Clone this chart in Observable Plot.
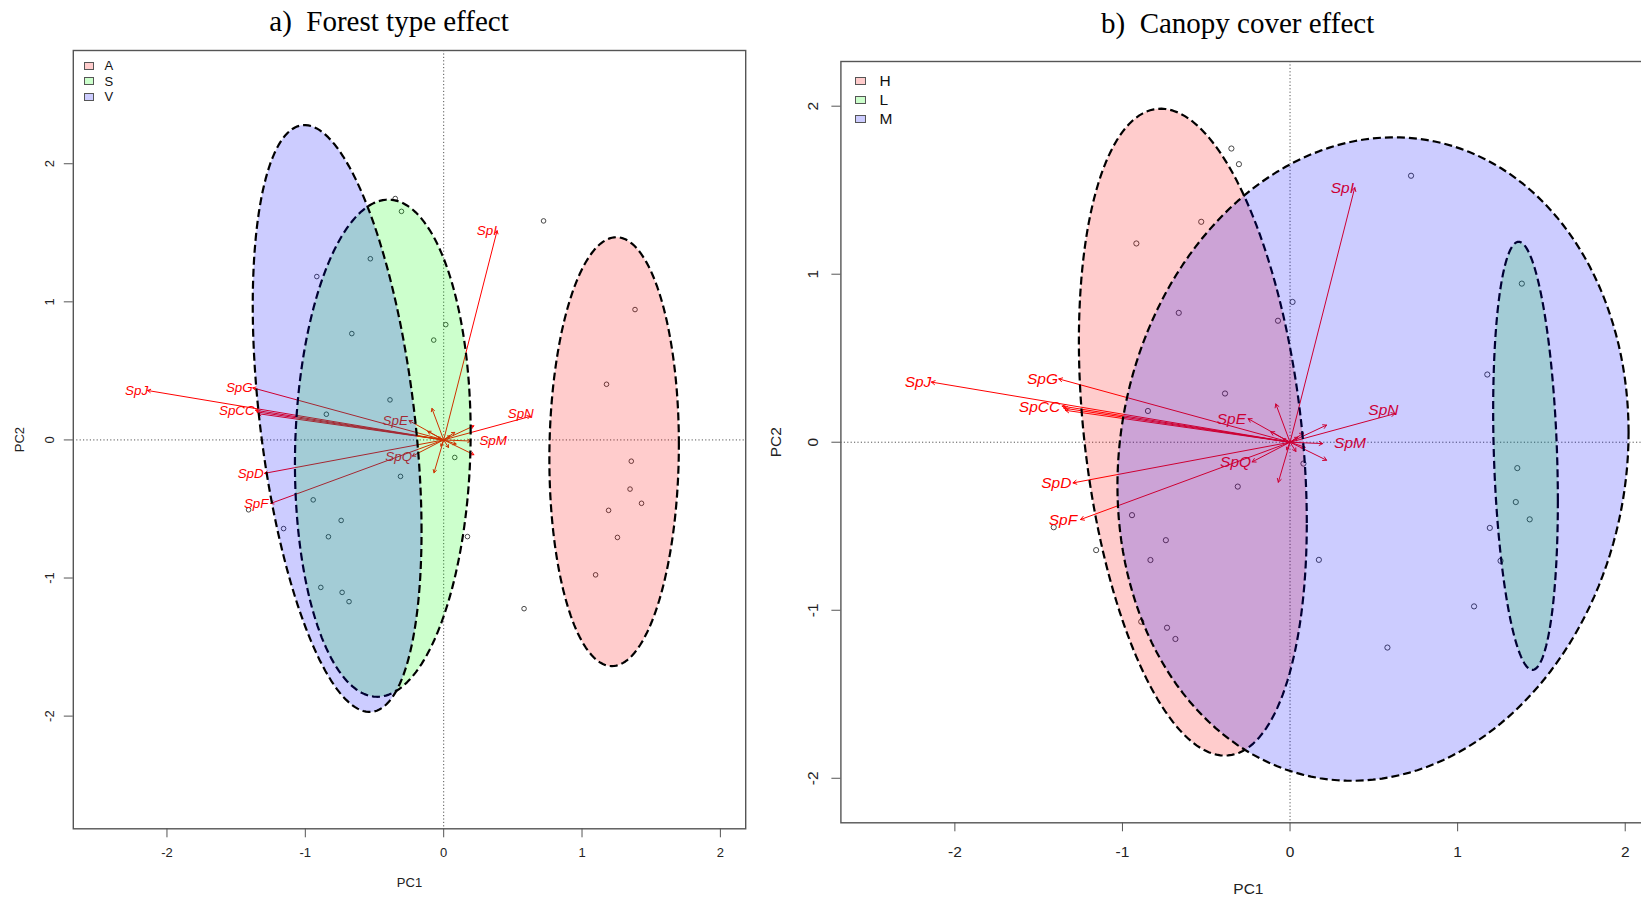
<!DOCTYPE html>
<html>
<head>
<meta charset="utf-8">
<script src="https://cdn.jsdelivr.net/npm/d3@7"></script>
<script src="https://cdn.jsdelivr.net/npm/@observablehq/plot@0.6"></script>
<style>
html, body { margin: 0; padding: 0; background: #fff; overflow: hidden; width: 1641px; height: 898px; }
#wrap { position: relative; width: 1641px; height: 898px; overflow: hidden; }
.title { position: absolute; font-family: "Liberation Serif", "Times New Roman", serif; font-size: 29px; line-height: 1; white-space: pre; transform: translateX(-50%); color: #000; }
.lg { position: absolute; font-family: "Liberation Sans", Arial, sans-serif; color: #111; white-space: pre; }
.sw { position: absolute; box-sizing: border-box; border: 1px solid #555; }
</style>
</head>
<body>
<div id="wrap"></div>
<script>
// ---------- data ----------
const xTicks = [-2, -1, 0, 1, 2];
const yTicks = [-2, -1, 0, 1, 2];

// site scores (PC1, PC2)
const siteX = [-0.35, -0.305, -0.53, -0.917, -0.664, -0.072, 0.015, 0.722, 1.177, -0.388,
               -0.848, 0.08, -0.312, -0.943, -1.41, -1.157, -0.741, -0.833, 0.172, -0.888,
               -0.734, -0.684, 0.581, 1.098, 1.192, 1.256, 1.356, 1.347, 1.43, 1.383];
const siteY = [1.748, 1.655, 1.312, 1.183, 0.77, 0.723, 0.835, 1.586, 0.403, 0.29,
               0.186, -0.127, -0.264, -0.434, -0.506, -0.642, -0.583, -0.701, -0.70, -1.068,
               -1.104, -1.171, -1.222, -0.977, -0.51, -0.706, -0.154, -0.356, -0.459, 0.944];

// species loading arrows (tips)
const arrowX = [-2.14, -1.38, -1.36, -1.35, -1.34, -1.295, -1.25, -0.25, -0.226, 0.386, 0.625, 0.195,
                -0.085, 0.218, 0.218, -0.07, -0.115, 0.08, 0.09, -0.02, 0.035, 0.045, -0.04];
const arrowY = [0.358, 0.377, 0.215, 0.203, 0.19, -0.242, -0.46, 0.14, -0.117, 1.515, 0.17, -0.008,
                0.228, 0.102, -0.107, -0.238, 0.062, 0.055, -0.03, -0.045, -0.055, 0.03, 0.02];

// species labels
const labelText = ["SpJ", "SpG", "SpCC", "SpE", "SpQ", "SpD", "SpF", "SpI", "SpN", "SpM"];
const labelX = [-2.22, -1.477, -1.495, -0.35, -0.325, -1.395, -1.355, 0.312, 0.557, 0.358];
const labelY = [0.36, 0.378, 0.21, 0.141, -0.12, -0.242, -0.462, 1.515, 0.189, -0.007];

// group ellipses: centre, horizontal half-width, vertical half-height, x of topmost point
const forestGroups = ["A", "S", "V"];
const forestCx = [1.232, -0.44, -0.77];
const forestCy = [-0.085, -0.06, 0.155];
const forestHalfW = [0.468, 0.635, 0.61];
const forestHalfH = [1.553, 1.80, 2.125];
const forestTopX = [1.248, -0.40, -1.005];

const canopyGroups = ["H", "L", "M"];
const canopyCx = [-0.58, 1.405, 0.495];
const canopyCy = [0.06, -0.081, -0.10];
const canopyHalfW = [0.68, 0.193, 1.525];
const canopyHalfH = [1.925, 1.274, 1.915];
const canopyTopX = [-0.771, 1.364, 0.621];

const groupColors = ["#ff0000", "#00ff00", "#0000ff"];

// ---------- helpers ----------
const SANS = "'Liberation Sans', Arial, Helvetica, sans-serif";

function ellipse(cx, cy, W, R, xTop) {
  const S = (xTop - cx) * R / W;
  const H = Math.sqrt(Math.max(R * R - S * S, 0));
  return d3.range(0, 360, 2).map(a => {
    const t = a * Math.PI / 180;
    return {x: cx + W * Math.cos(t), y: cy + H * Math.sin(t) + S * Math.cos(t)};
  });
}

function panel(cfg) {
  const sites = siteX.map((x, i) => ({x, y: siteY[i]}));
  const arrows = arrowX.map((x, i) => ({x, y: arrowY[i]}));
  const labels = labelText.map((t, i) => ({t, x: labelX[i], y: labelY[i]}));
  const marks = [
    Plot.ruleY([0], {stroke: "#555", strokeWidth: 1, strokeDasharray: "1.2,2.2"}),
    Plot.ruleX([0], {stroke: "#555", strokeWidth: 1, strokeDasharray: "1.2,2.2"}),
    Plot.dot(sites, {x: "x", y: "y", r: cfg.r, stroke: "#333", strokeWidth: 0.9, fill: "none"}),
    Plot.arrow(arrows, {x1: () => 0, y1: () => 0, x2: "x", y2: "y", stroke: "#ff0000", strokeWidth: 1, headLength: cfg.head, headAngle: 60}),
    Plot.text(labels, {x: "x", y: "y", text: "t", fill: "#ff0000", fontStyle: "italic", fontSize: cfg.lfs, fontFamily: SANS})
  ];
  cfg.groups.forEach((g, i) => {
    const pts = ellipse(cfg.cx[i], cfg.cy[i], cfg.hw[i], cfg.hh[i], cfg.tx[i]);
    marks.push(Plot.line(pts, {x: "x", y: "y", fill: groupColors[i], fillOpacity: 0.2, stroke: "none", curve: "linear-closed"}));
    marks.push(Plot.line(pts, {x: "x", y: "y", stroke: "#000", strokeWidth: 2.2, strokeDasharray: "8,4", strokeLinecap: "butt", curve: "linear-closed"}));
  });
  marks.push(
    Plot.frame({stroke: "#555", strokeWidth: 1.4}),
    Plot.axisX({ticks: xTicks, tickSize: 9, tickPadding: cfg.xPad, tickFormat: d => String(d), fontSize: cfg.fs, label: null, stroke: "#555", fill: "#222"}),
    Plot.axisY({ticks: yTicks, tickSize: 9, tickFormat: () => "", label: null, stroke: "#555"}),
    Plot.text(yTicks, {y: d => d, frameAnchor: "left", dx: cfg.yLabDx, rotate: -90, text: d => String(d), textAnchor: "middle", lineAnchor: "middle", fontSize: cfg.fs, fill: "#222"}),
    Plot.text(["PC1"], {frameAnchor: "bottom", dy: cfg.pc1Dy, text: d => d, textAnchor: "middle", lineAnchor: "middle", fontSize: cfg.fs, fill: "#222"}),
    Plot.text(["PC2"], {frameAnchor: "left", dx: cfg.pc2Dx, rotate: -90, text: d => d, textAnchor: "middle", lineAnchor: "middle", fontSize: cfg.fs, fill: "#222"})
  );
  const svg = Plot.plot({
    width: cfg.width, height: 898,
    marginLeft: cfg.ml, marginRight: cfg.mr, marginTop: cfg.mt, marginBottom: cfg.mb,
    x: {domain: cfg.xd},
    y: {domain: cfg.yd},
    style: {fontFamily: SANS, fontSize: cfg.fs + "px", background: "transparent", overflow: "visible"},
    marks
  });
  svg.style.position = "absolute";
  svg.style.left = cfg.left + "px";
  svg.style.top = "0px";
  return svg;
}

function legend(wrap, groups, cfg) {
  groups.forEach((g, i) => {
    const cy = cfg.y0 + i * cfg.dy;
    const sw = document.createElement("div");
    sw.className = "sw";
    sw.style.left = cfg.sx + "px";
    sw.style.top = (cy - cfg.sh / 2) + "px";
    sw.style.width = cfg.swd + "px";
    sw.style.height = cfg.sh + "px";
    sw.style.background = d3.color(groupColors[i]).copy({opacity: 0.2}).toString();
    wrap.appendChild(sw);
    const t = document.createElement("div");
    t.className = "lg";
    t.textContent = g;
    t.style.left = cfg.tx + "px";
    t.style.fontSize = cfg.fs + "px";
    t.style.lineHeight = cfg.fs + "px";
    t.style.top = (cy - cfg.fs / 2) + "px";
    wrap.appendChild(t);
  });
}

function title(wrap, text, cx, top) {
  const d = document.createElement("div");
  d.className = "title";
  d.textContent = text;
  d.style.left = cx + "px";
  d.style.top = top + "px";
  wrap.appendChild(d);
}

const wrap = document.getElementById("wrap");

wrap.appendChild(panel({
  left: 0, width: 790, ml: 72.8, mr: 790 - 745.2, mt: 50, mb: 898 - 828.3,
  xd: [-2.677, 2.183], yd: [-2.816, 2.82],
  groups: forestGroups, cx: forestCx, cy: forestCy, hw: forestHalfW, hh: forestHalfH, tx: forestTopX,
  r: 2.3, head: 5, fs: 13, lfs: 13.4, xPad: 10, yLabDx: -23, pc1Dy: 54, pc2Dx: -53
}));

wrap.appendChild(panel({
  left: 760, width: 940, ml: 80.4, mr: 760 + 940 - 1655.4, mt: 61, mb: 898 - 822.3,
  xd: [-2.68, 2.183], yd: [-2.265, 2.266],
  groups: canopyGroups, cx: canopyCx, cy: canopyCy, hw: canopyHalfW, hh: canopyHalfH, tx: canopyTopX,
  r: 2.6, head: 6, fs: 15.5, lfs: 15.5, xPad: 14, yLabDx: -28, pc1Dy: 66.5, pc2Dx: -65
}));

legend(wrap, forestGroups, {sx: 83.5, swd: 10, sh: 8, y0: 65.5, dy: 15.7, tx: 104.5, fs: 13});
legend(wrap, canopyGroups, {sx: 855, swd: 10.5, sh: 8.5, y0: 81.2, dy: 19, tx: 879.5, fs: 15.5});

title(wrap, "a)  Forest type effect", 389, 7.4);
title(wrap, "b)  Canopy cover effect", 1237.6, 9.0);
</script>
</body>
</html>
